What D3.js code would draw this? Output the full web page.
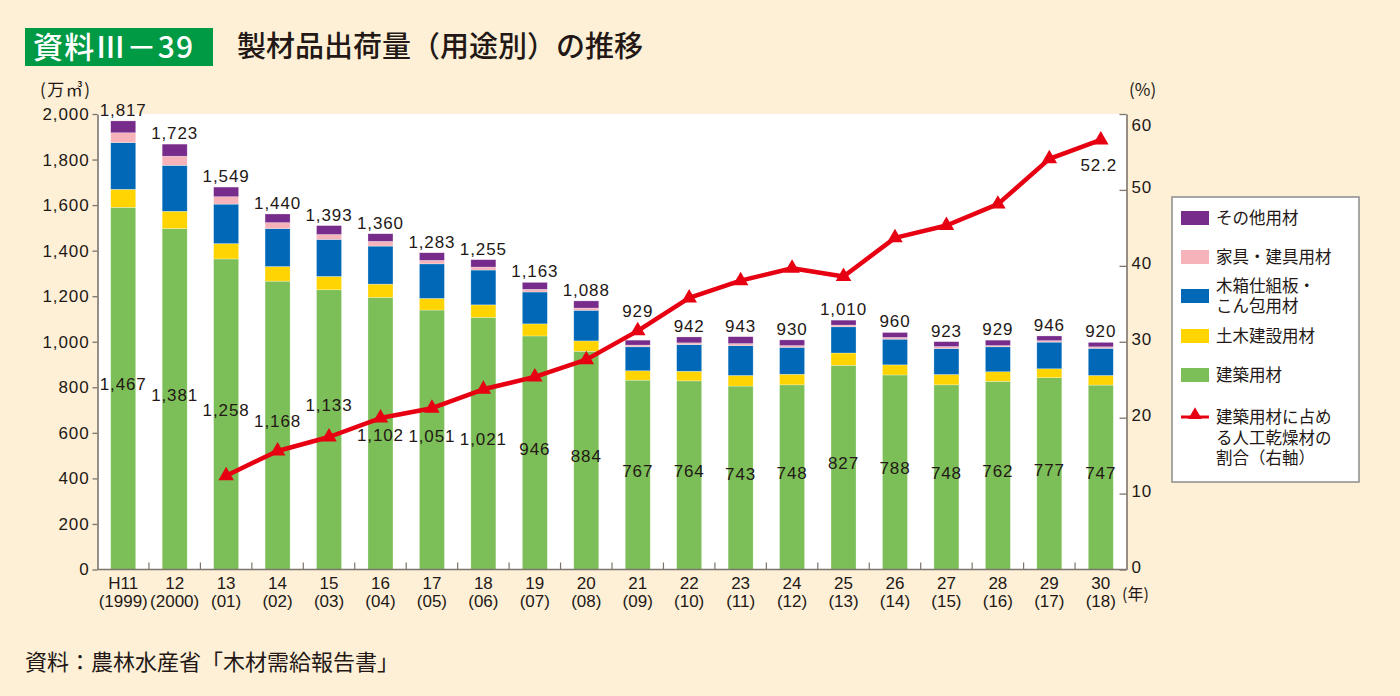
<!DOCTYPE html>
<html><head><meta charset="utf-8">
<script src="https://cdn.jsdelivr.net/npm/d3@7"></script>
<style>
html,body{margin:0;padding:0;background:#fdf0d7;}
svg{display:block;}
</style>
</head><body>
<svg id="chart" width="1400" height="696"></svg>
<script>
// ---------- data ----------
const yearsJP = ["H11","12","13","14","15","16","17","18","19","20","21","22","23","24","25","26","27","28","29","30"];
const yearsAD = ["(1999)","(2000)","(01)","(02)","(03)","(04)","(05)","(06)","(07)","(08)","(09)","(10)","(11)","(12)","(13)","(14)","(15)","(16)","(17)","(18)"];
const kenchiku = [1467,1381,1258,1168,1133,1102,1051,1021,946,884,767,764,743,748,827,788,748,762,777,747]; // 建築用材
const doboku   = [73,70,62,59,54,54,47,51,49,42,38,39,43,43,50,41,42,39,36,39];                         // 土木建設用材
const konpo    = [189,186,160,154,150,154,140,141,129,124,97,108,121,109,106,104,105,101,108,110];      // 木箱仕組板・こん包用材
const kagu     = [40,37,30,24,20,19,14,12,11,9,7,7,8,7,7,7,8,5,6,6];                                    // 家具・建具用材
const sonota   = [48,49,39,35,36,31,31,30,28,29,20,24,28,23,20,20,20,22,19,18];                         // その他用材
const totals   = [1817,1723,1549,1440,1393,1360,1283,1255,1163,1088,929,942,943,930,1010,960,923,929,946,920];
const dryRatio = [null,null,11.4,14.4,16.1,18.4,19.6,21.9,23.4,25.5,29.0,33.0,35.1,36.6,35.6,40.3,41.8,44.4,49.9,52.2]; // 人工乾燥材割合(%)
const leftTicks  = [0,200,400,600,800,1000,1200,1400,1600,1800,2000];
const rightTicks = [0,10,20,30,40,50,60];

const seriesKeys   = ["kenchiku","doboku","konpo","kagu","sonota"];
const seriesColors = {kenchiku:"#7cbf58", doboku:"#ffd400", konpo:"#0068b7", kagu:"#f6b3b9", sonota:"#772b8a"};
const legendItems = [
  {key:"sonota",  lines:["その他用材"]},
  {key:"kagu",    lines:["家具・建具用材"]},
  {key:"konpo",   lines:["木箱仕組板・","こん包用材"]},
  {key:"doboku",  lines:["土木建設用材"]},
  {key:"kenchiku",lines:["建築用材"]},
  {key:"line",    lines:["建築用材に占め","る人工乾燥材の","割合（右軸）"]}
];

// ---------- setup ----------
const NUM = "'Liberation Sans', Arial, sans-serif";
const JP  = "'Noto Sans CJK JP', 'Noto Sans', sans-serif";
const TXT = "#231815";
const AXC = "#7d746c";
const svg = d3.select("#chart");

const X0 = 97.5, X1 = 1126.5, Y0 = 569.5, YTOP = 114;
const idx = d3.range(yearsJP.length);
const x = d3.scaleBand().domain(idx).range([X0, X1]).paddingInner(0.514).paddingOuter(0.257);
const yAxisL = d3.scaleLinear().domain([0,2000]).range([Y0, YTOP]);
const yAxisR = d3.scaleLinear().domain([0,60]).range([Y0, YTOP]);
// the marks in the reference are drawn about 8.4% taller than the printed axes
const stretch = 1.084;
const yBar = d3.scaleLinear().domain([0,2000]).range([Y0, Y0 - (Y0 - YTOP) * stretch]);
const yPct = d3.scaleLinear().domain([0,60]).range([Y0, Y0 - (Y0 - YTOP) * stretch]);

// background
svg.append("rect").attr("width",1400).attr("height",696).attr("fill","#fdf0d7");
svg.append("rect").attr("x",X0).attr("y",YTOP).attr("width",X1-X0).attr("height",Y0-YTOP).attr("fill","#ffffff");

// title
svg.append("rect").attr("x",25).attr("y",28).attr("width",188).attr("height",38).attr("fill","#009944");
svg.append("text").attr("x",33).attr("y",58).attr("fill","#fff").attr("font-family",JP).attr("font-size",30).attr("font-weight",500)
  .style("letter-spacing","1.2px").text("資料Ⅲ－39");
svg.append("text").attr("x",237).attr("y",57).attr("fill",TXT).attr("font-family",JP).attr("font-size",29).attr("font-weight",500).text("製材品出荷量（用途別）の推移");

// ---------- bars ----------
const table = idx.map(i => ({i, kenchiku:kenchiku[i], doboku:doboku[i], konpo:konpo[i], kagu:kagu[i], sonota:sonota[i]}));
const stacked = d3.stack().keys(seriesKeys)(table);
const gBars = svg.append("g");
stacked.forEach(layer => {
  gBars.selectAll(null).data(layer).join("rect")
    .attr("x", d => x(d.data.i))
    .attr("width", x.bandwidth())
    .attr("y", d => yBar(d[1]))
    .attr("height", d => yBar(d[0]) - yBar(d[1]))
    .attr("fill", seriesColors[layer.key])
    .attr("stroke","#ffffff").attr("stroke-opacity",0.45).attr("stroke-width",0.6);
});

// ---------- axes ----------
const axL = svg.append("g").attr("transform",`translate(${X0},0)`)
  .call(d3.axisLeft(yAxisL).tickValues(leftTicks).tickSize(5).tickSizeOuter(0).tickPadding(3).tickFormat(d3.format(",")));
const axR = svg.append("g").attr("transform",`translate(${X1},0)`)
  .call(d3.axisRight(yAxisR).tickValues(rightTicks).tickSize(-7).tickSizeOuter(0).tickPadding(5));
[axL, axR].forEach(a => {
  a.select(".domain").attr("stroke",AXC).attr("stroke-width",1.6);
  a.selectAll(".tick line").attr("stroke",AXC).attr("stroke-width",1.3);
  a.selectAll(".tick text").attr("fill",TXT).attr("font-family",NUM).attr("font-size",17).style("letter-spacing","0.9px");
});
// right-axis numbers sit slightly above their ticks; the top one stays inside the frame
axR.selectAll(".tick text").attr("dy", d => d === 60 ? "0.95em" : "0.15em");

// bottom axis
svg.append("line").attr("x1",X0).attr("x2",X1).attr("y1",Y0).attr("y2",Y0).attr("stroke",AXC).attr("stroke-width",1.6);
svg.append("g").selectAll("line").data(idx.slice(1)).join("line")
  .attr("x1", i => x(i) - (x.step() - x.bandwidth())/2)
  .attr("x2", i => x(i) - (x.step() - x.bandwidth())/2)
  .attr("y1", Y0).attr("y2", Y0 - 7)
  .attr("stroke",AXC).attr("stroke-width",1.2);
const xl = svg.append("g").selectAll("text").data(idx).join("text")
  .attr("text-anchor","middle").attr("fill",TXT).attr("font-family",NUM).attr("font-size",17);
xl.append("tspan").attr("x", i => x(i) + x.bandwidth()/2).attr("y",589).text(i => yearsJP[i]);
xl.append("tspan").attr("x", i => x(i) + x.bandwidth()/2).attr("y",607).text(i => yearsAD[i]);

// units
svg.append("text").attr("x",40).attr("y",96).attr("fill",TXT).attr("font-family",JP).attr("font-size",17).style("letter-spacing","1.5px").text("(万㎥)");
svg.append("text").attr("x",1129).attr("y",96).attr("fill",TXT).attr("font-family",JP).attr("font-size",17).text("(%)");
svg.append("text").attr("x",1122).attr("y",600).attr("fill",TXT).attr("font-family",JP).attr("font-size",16).text("(年)");

// ---------- line ----------
const pts = idx.filter(i => dryRatio[i] != null).map(i => ({i, v: dryRatio[i], cx: x(i) + x.bandwidth()/2, cy: yPct(dryRatio[i])}));
const lineGen = d3.line().x(d => d.cx).y(d => d.cy);
svg.append("path").datum(pts).attr("d", lineGen).attr("fill","none").attr("stroke","#e60012").attr("stroke-width",4.5).attr("stroke-linejoin","round");
const tri = d3.symbol().type(d3.symbolTriangle).size(105);
svg.append("g").selectAll("path").data(pts).join("path")
  .attr("d", tri).attr("transform", d => `translate(${d.cx},${d.cy})`).attr("fill","#e60012");
const lineY = i => dryRatio[i] == null ? null : yPct(dryRatio[i]);

// ---------- value labels ----------
const fmt = d3.format(",");
const collides = (base, ly) => ly != null && (ly + 7 > base - 13) && (ly - 7 < base + 1);
// totals above bars
svg.append("g").selectAll("text").data(idx).join("text")
  .attr("x", i => x(i) + x.bandwidth()/2)
  .attr("y", i => { let b = yBar(totals[i]) - 5; const ly = lineY(i); if (collides(b, ly)) b = ly - 14; return b; })
  .attr("text-anchor","middle").attr("fill",TXT).attr("font-family",NUM).attr("font-size",17).style("letter-spacing","0.9px")
  .text(i => fmt(totals[i]));
// 建築用材 values inside the green bars
svg.append("g").selectAll("text").data(idx).join("text")
  .attr("x", i => x(i) + x.bandwidth()/2)
  .attr("y", i => {
    let b = yBar(kenchiku[i] / 2) + 2; const ly = lineY(i);
    if (collides(b, ly)) b = (b - 6 < ly) ? ly - 26 : ly + 23;
    return b; })
  .attr("text-anchor","middle").attr("fill",TXT).attr("font-family",NUM).attr("font-size",17).style("letter-spacing","0.9px")
  .text(i => fmt(kenchiku[i]));
// last ratio label
const last = pts[pts.length - 1];
svg.append("text").attr("x", last.cx - 2).attr("y", last.cy + 31).attr("text-anchor","middle")
  .attr("fill",TXT).attr("font-family",NUM).attr("font-size",17).style("letter-spacing","0.9px").text(last.v.toFixed(1));

// ---------- legend ----------
const lg = svg.append("g");
lg.append("rect").attr("x",1172).attr("y",197).attr("width",187).attr("height",285).attr("fill","#fff").attr("stroke","#8c8c8c").attr("stroke-width",1.5);
const rowY = [218, 257, 296, 336, 375, 417];
const LH = 20.5;
legendItems.forEach((it, k) => {
  const cy = rowY[k];
  if (it.key === "line") {
    lg.append("line").attr("x1",1181).attr("x2",1209).attr("y1",cy).attr("y2",cy).attr("stroke","#e60012").attr("stroke-width",3);
    lg.append("path").attr("d", d3.symbol().type(d3.symbolTriangle).size(80)()).attr("transform",`translate(1195,${cy-2})`).attr("fill","#e60012");
  } else {
    lg.append("rect").attr("x",1181).attr("y",cy-7).attr("width",28).attr("height",14).attr("fill",seriesColors[it.key]);
  }
  const n = it.lines.length;
  const t = lg.append("text").attr("fill",TXT).attr("font-family",JP).attr("font-size",16.5);
  it.lines.forEach((s, j) => {
    const yy = (n === 2 ? cy - LH/2 + j*LH : cy + j*LH) + 6;
    t.append("tspan").attr("x",1216).attr("y",yy).text(s);
  });
});

// footer
svg.append("text").attr("x",25).attr("y",670).attr("fill",TXT).attr("font-family",JP).attr("font-size",22).text("資料：農林水産省「木材需給報告書」");
</script>
</body></html>
